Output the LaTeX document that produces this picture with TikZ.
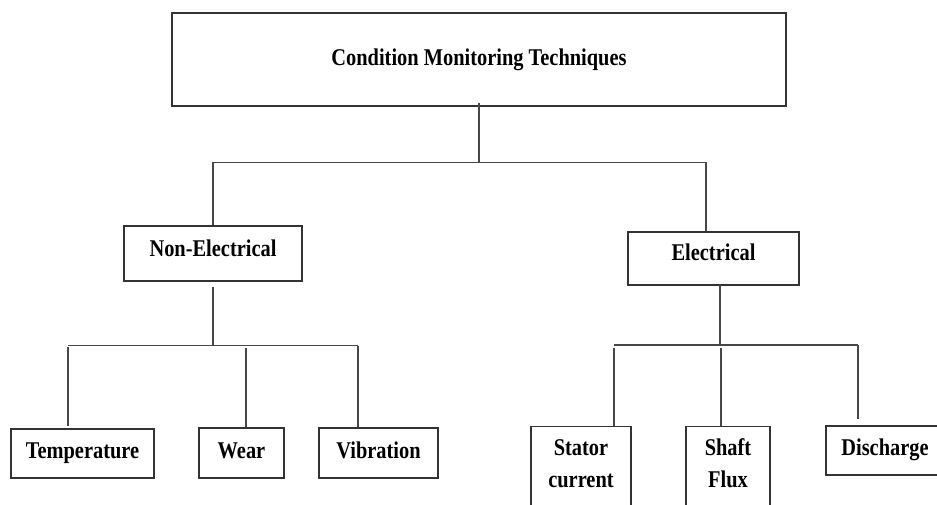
\documentclass[tikz,border=0pt]{standalone}
\usepackage{fontspec}
\setmainfont{Liberation Serif}[FakeStretch=0.85]
\begin{document}
\begin{tikzpicture}[x=1pt,y=-1pt,
  box/.style={draw=black!80, line width=1.2pt, inner sep=0pt},
  lbl/.style={inner sep=0pt, align=center, anchor=base, font=\bfseries\fontsize{24}{32}\selectfont},
  conn/.style={draw=black!72, line width=1.2pt}]
\useasboundingbox (0,0) rectangle (937,505);
\clip (0,0) rectangle (937,505);
% boxes
\node[box, minimum width=614, minimum height=93] (top) at (479,59.5) {};
\node[lbl] (topT) at (479,66) {Condition Monitoring Techniques};
\node[box, minimum width=178, minimum height=55] (nonel) at (213,253.5) {};
\node[lbl] (nonelT) at (213,256) {Non-Electrical};
\node[box, minimum width=171, minimum height=53] (elec) at (713.5,258.5) {};
\node[lbl] (elecT) at (713.5,261) {Electrical};
\node[box, minimum width=143, minimum height=49] (temp) at (82.5,453.5) {};
\node[lbl] (tempT) at (82.5,458) {Temperature};
\node[box, minimum width=85, minimum height=50] (wear) at (241.5,453) {};
\node[lbl] (wearT) at (241.5,458) {Wear};
\node[box, minimum width=119, minimum height=50] (vib) at (378.5,453) {};
\node[lbl] (vibT) at (378.5,458) {Vibration};
\node[box, minimum width=100, minimum height=84, anchor=north] (stator) at (581,426) {};
\node[lbl] (statorT) at (581,487) {Stator\\current};
\node[box, minimum width=84, minimum height=84, anchor=north] (shaft) at (728,426) {};
\node[lbl] (shaftT) at (728,487) {Shaft\\Flux};
\node[box, minimum width=120, minimum height=49] (dis) at (886,450.5) {};
\node[lbl] (disT) at (885,455) {Discharge};
% bus coordinates
\coordinate (topbus) at (479,162.5);
\coordinate (busL) at (213,162.5);
\coordinate (busR) at (706,162.5);
\coordinate (nbus) at (213,345.5);
\coordinate (nbusL) at (68,345.5);
\coordinate (nbusM) at (246,348);
\coordinate (nbusR) at (358,345.5);
\coordinate (ebus) at (720,345);
\coordinate (ebusL) at (614,345);
\coordinate (ebusM) at (721,348);
\coordinate (ebusR) at (858,345);
\coordinate (disEnd) at (858,419);
\coordinate (elecDrop) at (720,285);
% connectors
\draw[conn] ([yshift=4]top.south) -- (topbus);
\draw[conn] (busL) -- (busR);
\draw[conn] (busL) -- (nonel.north);
\draw[conn] (busR) -- (busR |- elec.north);
\draw[conn] ([yshift=-5]nonel.south) -- (nbus);
\draw[conn] (nbusL) -- (nbusR);
\draw[conn] ([yshift=-1.5]nbusL) -- ([yshift=2]nbusL |- temp.north);
\draw[conn] (nbusM) -- (nbusM |- wear.north);
\draw[conn] (nbusR) -- (nbusR |- vib.north);
\draw[conn] (elecDrop) -- (ebus);
\draw[conn] (ebusL) -- (ebusR);
\draw[conn] ([yshift=-3]ebusL) -- (ebusL |- stator.north);
\draw[conn] (ebusM) -- (ebusM |- shaft.north);
\draw[conn] (ebusR) -- (disEnd);
\end{tikzpicture}
\end{document}
